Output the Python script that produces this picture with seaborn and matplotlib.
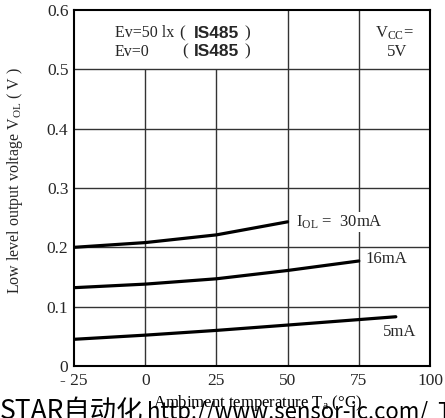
import matplotlib
matplotlib.use("Agg")
import matplotlib.pyplot as plt
import seaborn as sns
import pandas as pd

# values
temp_30 = [-25, 0, 25, 50]
vol_30 = [0.200, 0.208, 0.221, 0.243]
temp_16 = [-25, 0, 25, 50, 75]
vol_16 = [0.132, 0.138, 0.147, 0.161, 0.177]
temp_5 = [-25, 0, 25, 50, 88]
vol_5 = [0.045, 0.052, 0.060, 0.069, 0.083]

x_ticks = [-25, 0, 25, 50, 75, 100]
x_ticklabels = ["- 25", "0", "25", "50", "75", "100"]
y_ticks = [0, 0.1, 0.2, 0.3, 0.4, 0.5, 0.6]
y_ticklabels = ["0", "0.1", "0.2", "0.3", "0.4", "0.5", "0.6"]

df = pd.concat([
    pd.DataFrame({"temp": temp_30, "vol": vol_30, "iol": "30mA"}),
    pd.DataFrame({"temp": temp_16, "vol": vol_16, "iol": "16mA"}),
    pd.DataFrame({"temp": temp_5, "vol": vol_5, "iol": "5mA"}),
])

sns.set_style("white")
plt.rcParams["font.family"] = ["Liberation Serif", "DejaVu Serif"]
plt.rcParams["mathtext.fontset"] = "custom"
plt.rcParams["mathtext.rm"] = "Liberation Serif"
plt.rcParams["mathtext.it"] = "Liberation Serif"

W, H = 445, 418
fig = plt.figure(figsize=(W / 100, H / 100), dpi=100)
ax = fig.add_axes([74 / W, 1 - 366 / H, 356 / W, 356 / H])

sns.lineplot(data=df, x="temp", y="vol", units="iol", estimator=None,
             color="black", lw=2.3, ax=ax, zorder=4, legend=False)

# grid: 0 and 25 stop at 0.5 (room for the condition text)
ax.vlines([0, 25], 0, 0.5, color="#333333", lw=1.0, zorder=1)
ax.vlines([50, 75], 0, 0.6, color="#333333", lw=1.0, zorder=1)
ax.hlines([0.1, 0.2, 0.3, 0.4, 0.5], -25, 100, color="#333333", lw=1.0, zorder=1)

ax.set_xlim(-25, 100)
ax.set_ylim(0, 0.6)
ax.set_xticks(x_ticks)
ax.set_xticklabels(x_ticklabels)
ax.set_yticks(y_ticks)
ax.set_yticklabels(y_ticklabels)
ax.tick_params(length=0, labelsize=12.5, pad=4)
ax.tick_params(axis="x", pad=5)
for s in ax.spines.values():
    s.set_color("black")
    s.set_linewidth(1.5)
ax.set_xlabel("")
ax.set_ylabel("")

fig.text(15 / W, 1 - 181 / H, "Low level output voltage V$_{\\rm OL}$ ( V )",
         fontsize=11.5, rotation=90, ha="center", va="center")

lab = dict(fontsize=12, va="center", ha="left", zorder=5,
           bbox=dict(facecolor="white", edgecolor="none", pad=1))
ax.text(53, 0.243, "I$_{\\rm OL}$ =  30mA", **lab)
ax.text(77.5, 0.181, "16mA", **lab)
ax.text(83.5, 0.057, "5mA", **lab)

# condition text
ax.text(-10.6, 0.561, "Ev=50 lx", fontsize=11.5, va="center")
ax.text(12.8, 0.561, "(", fontsize=12.5, va="center", ha="center")
ax.text(17.1, 0.561, "IS485", fontsize=12.5, va="center", family="Liberation Sans", weight="bold")
ax.text(35.7, 0.561, ")", fontsize=12.5, va="center", ha="center")
ax.text(-10.6, 0.530, "Ev=0", fontsize=11.5, va="center")
ax.text(14.0, 0.530, "(", fontsize=12.5, va="center", ha="center")
ax.text(17.1, 0.530, "IS485", fontsize=12.5, va="center", family="Liberation Sans", weight="bold")
ax.text(35.7, 0.530, ")", fontsize=12.5, va="center", ha="center")
ax.text(87.4, 0.561, "V$_{\\rm CC}$=", fontsize=12, va="center", ha="center")
ax.text(88.5, 0.530, "5V", fontsize=12, va="center", ha="center")

# watermark strip along the bottom
wm = ["Noto Sans CJK SC", "DejaVu Sans"]
fig.text(0 / W, 1 - 419 / H, "STAR自动化", fontsize=19, ha="left", va="baseline",
         family=wm, color="black")
fig.text(147 / W, 1 - 419 / H, "http://www.sensor-ic.com/  T", fontsize=16, ha="left",
         va="baseline", family=wm, color="black")

fig.text(257 / W, 1 - 403 / H, "Ambiment temperature T$_{\\rm a}$ (°C)", fontsize=12,
         ha="center", va="center", color="black")

fig.savefig("out.png", dpi=100)
